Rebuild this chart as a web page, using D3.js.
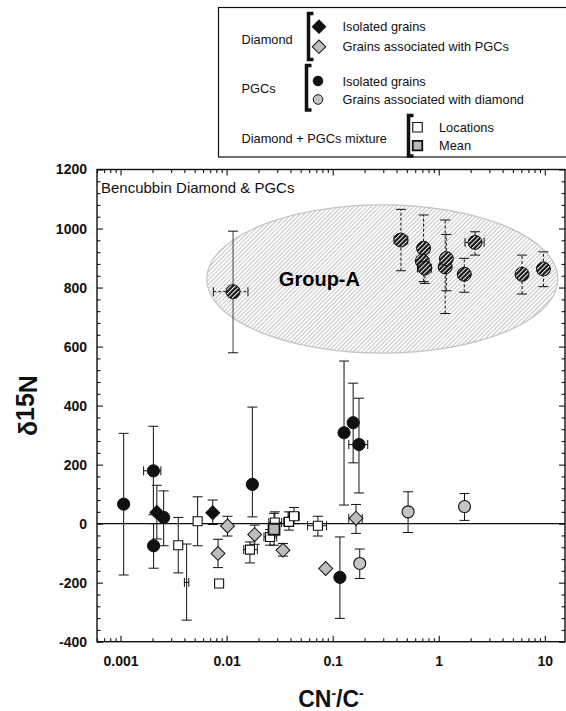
<!DOCTYPE html>
<html>
<head>
<meta charset="utf-8">
<script src="https://cdn.jsdelivr.net/npm/d3@7"></script>
<style>
  body { margin: 0; background: #fff; }
  svg { display: block; font-family: Arial, "Liberation Sans", sans-serif; }
</style>
</head>
<body>
<div id="chart"></div>
<script>
// Data rows: [CN-/C-, d15N, xLo, xHi, yLo, yHi]  (null = no error bar)

var diamondIsolated = [
  [0.0022, 38, null, null, -52, 130],
  [0.0074, 37, null, null, -3, 80]
];

var diamondWithPGC = [
  [0.0102, -8, null, null, -42, 25],
  [0.0083, -101, null, null, -149, -53],
  [0.0184, -37, null, null, -70, -5],
  [0.034, -90, null, null, -110, -67],
  [0.086, -152, null, null, null, null],
  [0.166, 18, 0.142, 0.19, -33, 65]
];

var pgcIsolated = [
  [0.00107, 66, 0.00102, 0.00112, -174, 306],
  [0.00204, 179, 0.00165, 0.0024, 30, 330],
  [0.00205, -75, null, null, -151, 0],
  [0.00255, 21, null, null, -75, 111],
  [0.0175, 133, null, null, 23, 395],
  [0.128, 308, null, null, 63, 551],
  [0.156, 342, null, null, 206, 476],
  [0.177, 268, 0.142, 0.214, 104, 425],
  [0.117, -182, null, null, -321, -45]
];

var pgcWithDiamond = [
  [0.18, -135, null, null, -186, -86],
  [0.514, 40, null, null, -30, 108],
  [1.75, 58, null, null, 11, 102]
];

var mixLocations = [
  [0.0035, -73, null, null, -167, 21],
  [0.00533, 8, null, null, -75, 91],
  [0.0085, -203, null, null, null, null],
  [0.0166, -88, 0.0145, 0.0195, -133, -62],
  [0.0257, -45, 0.0225, 0.0297, -73, -20],
  [0.0285, 4, 0.025, 0.033, -20, 40],
  [0.0387, 6, 0.0346, 0.043, -22, 40],
  [0.0432, 25, 0.038, 0.0484, 0, 55],
  [0.0726, -7, 0.058, 0.0875, -42, 25]
];

var mixMean = [
  [0.028, -19, null, null, -73, 35]
];

// error bars drawn without a symbol
var barsOnly = [
  [0.0042, -199, 0.0040, 0.0044, -327, -69]
];

var groupA = [
  [0.0115, 786, 0.0075, 0.0159, 579, 991],
  [0.44, 961, 0.38, 0.51, 857, 1065],
  [0.72, 933, null, null, 820, 1046],
  [0.70, 890, null, null, null, null],
  [0.74, 866, 0.63, 0.85, 814, 918],
  [1.15, 870, null, null, 712, 1029],
  [1.18, 898, null, null, 789, 980],
  [2.2, 953, 1.77, 2.68, 910, 989],
  [1.74, 845, null, null, 784, 899],
  [6.1, 845, null, null, 778, 910],
  [9.7, 863, null, null, 803, 921]
];

// Group-A zone: [xMin, xMax, yMin, yMax]
var groupAZone = [0.0065, 13.3, 578, 1080];

var xTicks = [0.001, 0.01, 0.1, 1, 10];
var yTicks = d3.range(-400, 1201, 200);

// Layout
var w = 566, h = 711;
var margin = {top: 169.5, left: 97, bottom: 69.3, right: 1};

var x = d3.scaleLog()
  .domain([0.0006, 15.5])
  .range([margin.left, w - margin.right]);

var y = d3.scaleLinear()
  .domain([-400, 1200])
  .range([h - margin.bottom, margin.top]);

var svg = d3.select("#chart").append("svg")
  .attr("width", w)
  .attr("height", h);

var defs = svg.append("defs");

var hl = defs.append("pattern")
  .attr("id", "hatchLight")
  .attr("patternUnits", "userSpaceOnUse")
  .attr("width", 3).attr("height", 3)
  .attr("patternTransform", "rotate(45)");
hl.append("rect").attr("width", 3).attr("height", 3).attr("fill", "#fff");
hl.append("line").attr("x1", 0.5).attr("y1", 0).attr("x2", 0.5).attr("y2", 3)
  .attr("stroke", "#b4b4b4").attr("stroke-width", 0.8);

var hd = defs.append("pattern")
  .attr("id", "hatchDark")
  .attr("patternUnits", "userSpaceOnUse")
  .attr("width", 3.2).attr("height", 3.2)
  .attr("patternTransform", "rotate(45)");
hd.append("rect").attr("width", 3.2).attr("height", 3.2).attr("fill", "#111");
hd.append("line").attr("x1", 0.5).attr("y1", 0).attr("x2", 0.5).attr("y2", 3.2)
  .attr("stroke", "#fff").attr("stroke-width", 1);

// Group-A zone
svg.append("ellipse")
  .attr("cx", (x(groupAZone[0]) + x(groupAZone[1])) / 2)
  .attr("cy", (y(groupAZone[2]) + y(groupAZone[3])) / 2)
  .attr("rx", (x(groupAZone[1]) - x(groupAZone[0])) / 2)
  .attr("ry", (y(groupAZone[2]) - y(groupAZone[3])) / 2)
  .attr("fill", "url(#hatchLight)")
  .attr("stroke", "#c4c4c4")
  .attr("stroke-width", 1.2);

svg.append("text")
  .attr("x", x(0.075))
  .attr("y", y(830))
  .attr("text-anchor", "middle")
  .attr("dominant-baseline", "central")
  .attr("font-size", 20)
  .attr("font-weight", "bold")
  .text("Group-A");

// zero line
svg.append("line")
  .attr("x1", x.range()[0]).attr("x2", x.range()[1])
  .attr("y1", y(0)).attr("y2", y(0))
  .attr("stroke", "#111").attr("stroke-width", 1.3);

// axes (ticks inside)
var minorX = [];
[0.0001, 0.001, 0.01, 0.1, 1, 10].forEach(function(dec) {
  for (var k = 2; k <= 9; k++) {
    var v = dec * k;
    if (v >= x.domain()[0] && v <= x.domain()[1]) minorX.push(v);
  }
});
var minorY = d3.range(-400, 1201, 40).filter(d => d % 200 != 0);

function axisStyle(g) {
  g.select(".domain").remove();
  g.selectAll("line").attr("stroke", "#111").attr("stroke-width", 1.1);
  g.selectAll("text").attr("font-size", 14).attr("font-weight", "bold")
    .attr("font-family", "Arial, 'Liberation Sans', sans-serif").attr("fill", "#111");
}

var yb = y.range()[0], yt = y.range()[1];
var xl = x.range()[0], xr = x.range()[1];

svg.append("g").attr("transform", `translate(0,${yb})`)
  .call(d3.axisBottom(x).tickValues(xTicks).tickFormat(d => String(d))
    .tickSize(-6).tickSizeOuter(0).tickPadding(14))
  .call(axisStyle);
svg.append("g").attr("transform", `translate(0,${yb})`)
  .call(d3.axisBottom(x).tickValues(minorX).tickFormat("").tickSize(-3.5).tickSizeOuter(0))
  .call(axisStyle);
svg.append("g").attr("transform", `translate(0,${yt})`)
  .call(d3.axisTop(x).tickValues(xTicks).tickFormat("").tickSize(-6).tickSizeOuter(0))
  .call(axisStyle);
svg.append("g").attr("transform", `translate(0,${yt})`)
  .call(d3.axisTop(x).tickValues(minorX).tickFormat("").tickSize(-3.5).tickSizeOuter(0))
  .call(axisStyle);

svg.append("g").attr("transform", `translate(${xl},0)`)
  .call(d3.axisLeft(y).tickValues(yTicks).tickFormat(d => String(d))
    .tickSize(-6).tickSizeOuter(0).tickPadding(10))
  .call(axisStyle);
svg.append("g").attr("transform", `translate(${xl},0)`)
  .call(d3.axisLeft(y).tickValues(minorY).tickFormat("").tickSize(-3.5).tickSizeOuter(0))
  .call(axisStyle);
svg.append("g").attr("transform", `translate(${xr},0)`)
  .call(d3.axisRight(y).tickValues(yTicks).tickFormat("").tickSize(-6).tickSizeOuter(0))
  .call(axisStyle);
svg.append("g").attr("transform", `translate(${xr},0)`)
  .call(d3.axisRight(y).tickValues(minorY).tickFormat("").tickSize(-3.5).tickSizeOuter(0))
  .call(axisStyle);

svg.append("rect")
  .attr("x", xl).attr("y", yt)
  .attr("width", xr - xl).attr("height", yb - yt)
  .attr("fill", "none").attr("stroke", "#111").attr("stroke-width", 1.4);

svg.append("text")
  .attr("x", xl + 4).attr("y", yt + 23)
  .attr("font-size", 15)
  .attr("fill", "#111")
  .text("Bencubbin Diamond & PGCs");

// axis titles
var xt = svg.append("text")
  .attr("x", (xl + xr) / 2 + 0).attr("y", 707)
  .attr("text-anchor", "middle")
  .attr("font-size", 23).attr("font-weight", "bold").attr("fill", "#111");
xt.append("tspan").text("CN");
xt.append("tspan").attr("dy", -9).attr("font-size", 14).text("-");
xt.append("tspan").attr("dy", 9).text("/C");
xt.append("tspan").attr("dy", -9).attr("font-size", 14).text("-");

var yt2 = svg.append("text")
  .attr("transform", `translate(37,${(yt + yb) / 2}) rotate(-90)`)
  .attr("text-anchor", "middle")
  .attr("font-size", 25).attr("font-weight", "bold").attr("fill", "#111");
yt2.append("tspan").text("δ");
yt2.append("tspan").attr("dy", -3).text("15");
yt2.append("tspan").attr("dy", 3).text("N");

// error bars
function errorBars(rows, dashed) {
  var g = svg.append("g").attr("stroke", "#111").attr("stroke-width", 1).attr("fill", "none");
  rows.forEach(function(r, i) {
    var cx = x(r[0]), cy = y(r[1]);
    // first Group-A grain has a solid vertical bar
    var dashV = dashed && !(rows === groupA && i == 0);
    if (r[4] != null) {
      g.append("line").attr("x1", cx).attr("x2", cx).attr("y1", y(r[4])).attr("y2", y(r[5]))
        .attr("stroke", dashV || !dashed ? null : "#444")
        .attr("stroke-dasharray", dashV ? "3,2" : null);
      [r[4], r[5]].forEach(function(v) {
        g.append("line").attr("x1", cx - 5).attr("x2", cx + 5).attr("y1", y(v)).attr("y2", y(v));
      });
    }
    if (r[2] != null) {
      g.append("line").attr("x1", x(r[2])).attr("x2", x(r[3])).attr("y1", cy).attr("y2", cy)
        .attr("stroke-dasharray", dashed ? "3,2" : null);
      [r[2], r[3]].forEach(function(v) {
        g.append("line").attr("x1", x(v)).attr("x2", x(v)).attr("y1", cy - 4.5).attr("y2", cy + 4.5);
      });
    }
  });
}

var sq = d3.symbol().type(d3.symbolSquare);

function drawSymbols(rows, kind, fill, size, sw) {
  var g = svg.append("g");
  rows.forEach(function(r) {
    var cx = x(r[0]), cy = y(r[1]);
    if (kind == "circle") {
      g.append("circle").attr("cx", cx).attr("cy", cy).attr("r", size)
        .attr("fill", fill).attr("stroke", "#111").attr("stroke-width", sw);
    } else {
      g.append("path")
        .attr("d", sq.size(size * size)())
        .attr("transform", `translate(${cx},${cy})` + (kind == "diamond" ? " rotate(45)" : ""))
        .attr("fill", fill).attr("stroke", "#111").attr("stroke-width", sw);
    }
  });
}

errorBars(groupA, true);
errorBars(barsOnly, false);
errorBars(mixLocations, false);
errorBars(mixMean, false);
errorBars(diamondWithPGC, false);
errorBars(diamondIsolated, false);
errorBars(pgcWithDiamond, false);
errorBars(pgcIsolated, false);

drawSymbols(groupA, "circle", "url(#hatchDark)", 7, 1);
drawSymbols(mixLocations, "square", "#fff", 9, 1.1);
drawSymbols(mixMean, "square", "#b8b8b8", 11, 1.8);
drawSymbols(diamondWithPGC, "diamond", "#bdbdbd", 9.8, 1);
drawSymbols(diamondIsolated, "diamond", "#111", 9.8, 1);
drawSymbols(pgcWithDiamond, "circle", "#c4c4c4", 6, 1.1);
drawSymbols(pgcIsolated, "circle", "#111", 6.1, 1);

// legend
var lg = svg.append("g");
lg.append("rect")
  .attr("x", 218.5).attr("y", 7.5).attr("width", 380).attr("height", 149.5)
  .attr("fill", "#fff").attr("stroke", "#111").attr("stroke-width", 1.2);

var legendGroups = [
  {label: "Diamond", ly: 39.5, bx: 308.5, by: [13.5, 59.5]},
  {label: "PGCs", ly: 88.5, bx: 306.5, by: [65.5, 110]},
  {label: "Diamond + PGCs mixture", ly: 138.5, bx: 408.5, by: [115.5, 156]}
];
var legendRows = [
  {kind: "diamond", fill: "#111", size: 9.5, sw: 1, sx: 319, y: 26.7, tx: 342.5, text: "Isolated grains"},
  {kind: "diamond", fill: "#bdbdbd", size: 9.5, sw: 1, sx: 319, y: 46.7, tx: 342.5, text: "Grains associated with PGCs"},
  {kind: "circle", fill: "#111", size: 4.8, sw: 1, sx: 318, y: 81, tx: 342.5, text: "Isolated grains"},
  {kind: "circle", fill: "#c4c4c4", size: 4.8, sw: 1, sx: 318, y: 99.5, tx: 342.5, text: "Grains associated with diamond"},
  {kind: "square", fill: "#fff", size: 9.5, sw: 1.1, sx: 417.5, y: 127.3, tx: 439, text: "Locations"},
  {kind: "square", fill: "#b8b8b8", size: 9.5, sw: 1.8, sx: 417.5, y: 145.7, tx: 439, text: "Mean"}
];

legendGroups.forEach(function(d) {
  lg.append("text").attr("x", 241.5).attr("y", d.ly)
    .attr("dominant-baseline", "central").attr("font-size", 12.8).attr("fill", "#111")
    .text(d.label);
  lg.append("path")
    .attr("d", `M${d.bx + 5},${d.by[0]} H${d.bx} V${d.by[1]} H${d.bx + 5}`)
    .attr("fill", "none").attr("stroke", "#111").attr("stroke-width", 3.5);
});

legendRows.forEach(function(d) {
  if (d.kind == "circle") {
    lg.append("circle").attr("cx", d.sx).attr("cy", d.y).attr("r", d.size)
      .attr("fill", d.fill).attr("stroke", "#111").attr("stroke-width", d.sw);
  } else {
    lg.append("path").attr("d", sq.size(d.size * d.size)())
      .attr("transform", `translate(${d.sx},${d.y})` + (d.kind == "diamond" ? " rotate(45)" : ""))
      .attr("fill", d.fill).attr("stroke", "#111").attr("stroke-width", d.sw);
  }
  lg.append("text").attr("x", d.tx).attr("y", d.y)
    .attr("dominant-baseline", "central").attr("font-size", 12.8).attr("fill", "#111")
    .text(d.text);
});
</script>
</body>
</html>
